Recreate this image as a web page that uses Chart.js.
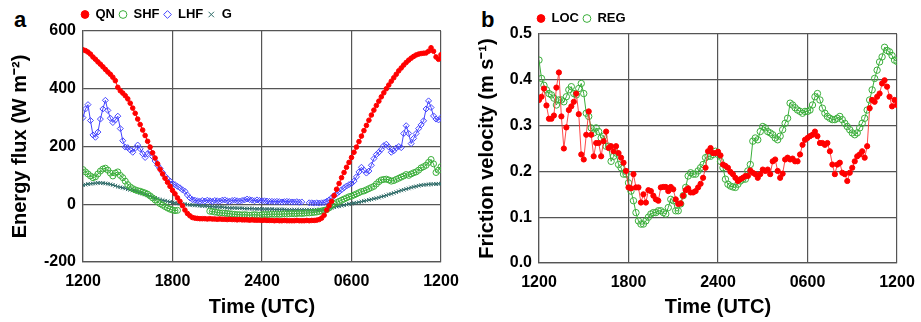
<!DOCTYPE html>
<html><head><meta charset="utf-8">
<script src="https://cdn.jsdelivr.net/npm/chart.js@4"></script>
<style>
html,body{margin:0;padding:0;background:#fff;width:921px;height:322px;overflow:hidden;position:relative;font-family:"Liberation Sans",Arial,sans-serif;}
#wa{position:absolute;left:0;top:0;width:460px;height:322px;}
#wb{position:absolute;left:467px;top:0;width:454px;height:322px;}
.pl{position:absolute;font-weight:bold;font-size:22px;color:#000;}
</style></head><body>
<div class="pl" style="left:14px;top:7px">a</div>
<div class="pl" style="left:481px;top:7px">b</div>
<div id="wa"><canvas id="ca" width="460" height="322"></canvas></div>
<div id="wb"><canvas id="cb" width="454" height="322"></canvas></div>
<script>
// ---- data (10-minute samples from 1200 UTC to 1200 UTC next day) ----
const xTickLabels = ['1200', '1800', '2400', '0600', '1200'];
const seriesNamesA = ['QN', 'SHF', 'LHF', 'G'];
const seriesNamesB = ['LOC', 'REG'];

const QN = [
 535,532,527,520,510,502, 493,485,476,467,458,450, 440,428,405,393,385,376,
 365,350,333,315,295,276, 257,238,218,198,178,160, 140,121,105,90,76,62,
 48,36,22,10,-5,-20, -32,-40,-46,-48,-49,-50, -50,-50,-51,-50,-51,-51,
 -52,-51,-52,-52,-53,-52, -53,-53,-54,-53,-54,-54, -54,-55,-54,-55,-55,-55,
 -56,-55,-56,-56,-56,-57, -56,-57,-57,-56,-57,-57, -57,-57,-56,-57,-57,-57,
 -56,-57,-56,-56,-55,-53, -48,-38,-20,-5,10,30, 52,72,92,110,128,145,
 162,180,198,217,236,255, 273,291,309,326,342,357, 372,386,400,413,426,438,
 450,462,472,482,491,499, 506,512,517,520,522,523, 524,530,542,530,510,502,
 518];
const SHF = [
 120,112,105,98,92,95, 105,115,122,125,118,108, 98,108,112,100,92,80,
 68,60,54,50,47,45, 42,39,35,29,22,15, 8,2,-3,-8,-13,-17,
 -20,-22,-21,null,null,null, null,null,null,null,null,null, null,null,null,-24,-25,-27,
 -28,-30,-30,-31,-32,-33, -34,-35,-36,-36,-37,-36, -37,-38,-37,-36,-37,-38,
 -36,-35,-36,-35,-34,-35, -34,-35,-34,-33,-34,-33, -32,-33,-32,-31,-32,-31,
 -30,-30,-29,-28,-27,-25, -23,-21,-19,-12,-5,2, 6,10,14,18,22,26,
 28,32,36,40,44,46, 50,54,58,62,70,78, 84,86,87,84,80,82,
 86,90,94,98,103,100, 105,109,112,118,126,130, 135,145,155,140,110,118,
 130];
const LHF = [
 300,330,345,290,240,232, 250,295,330,360,325,298, 283,292,305,262,220,198,
 196,188,180,194,205,192, 175,162,175,183,165,150, 135,124,110,97,88,80,
 72,68,62,57,50,45, 32,22,16,14,12,10, 13,11,14,12,10,13,
 12,11,14,15,12,10, 13,14,12,11,13,15, 18,16,14,12,15,13,
 12,12,11,10,10,9, 10,9,8,9,10,9, 8,8,9,7,8,null,
 null,5,5,4,5,4, 5,6,10,15,22,30, 36,43,50,57,63,68,
 72,80,95,112,128,118, 108,115,135,158,172,180, 190,203,208,198,180,185,
 195,200,196,245,272,245, 210,228,245,262,275,289, 330,358,335,306,295,292,
 300];
const G = [
 66,68,70,71,72,73, 74,74,73,72,71,69, 67,64,61,59,57,55,
 52,50,48,46,43,40, 37,34,31,28,25,22, 19,16,14,12,10,8,
 6,5,3,2,1,0, -1,-2,-3,-4,-4,-5, -6,-6,-7,-8,-8,-9,
 -9,-10,-10,-11,-12,-13, -13,-13,-14,-14,-14,-15, -15,-15,-15,-16,-16,-16,
 -16,-17,-17,-17,-17,-18, -18,-18,-18,-18,-19,-19, -19,-19,-19,-19,-19,-19,
 -19,-19,-19,-19,-19,-19, -19,-19,-19,-16,-13,-10, -8,-7,-5,-3,-1,1,
 2,4,5,7,9,11, 13,15,17,19,21,23, 26,28,31,34,36,39,
 42,45,48,50,53,55, 58,60,62,64,66,67, 68,69,69,70,70,71,
 71];

const LOC = [
 0.356,0.363,0.381,0.344,0.315,0.315,0.322,0.383,0.416,0.320,
 0.250,0.296,0.334,0.342,0.352,0.370,0.325,0.237,0.226,0.280,
 0.331,0.280,0.233,0.262,0.262,0.233,0.266,0.287,0.251,0.255,
 0.244,0.255,0.240,0.230,0.219,0.201,0.165,0.163,0.194,0.165,
 0.165,0.132,0.150,0.132,0.159,0.157,0.147,0.139,0.136,0.165,
 0.166,0.166,0.157,0.166,0.161,0.139,0.129,0.130,0.147,0.159,
 0.163,0.154,0.154,0.157,0.165,0.173,0.186,0.208,0.244,0.251,0.240,
 0.240,0.243,0.235,0.215,0.212,0.208,0.199,0.194,0.186,0.179,
 0.183,0.186,0.190,0.190,0.202,0.197,0.194,0.186,0.194,0.204,
 0.201,0.204,0.194,0.222,0.226,0.201,0.186,0.195,0.226,0.230,
 0.226,0.228,0.222,0.222,0.237,0.258,0.269,0.273,0.277,0.280,
 0.287,0.277,0.262,0.262,0.258,0.262,0.244,0.215,0.194,0.215,
 0.219,0.197,0.194,0.179,0.197,0.208,0.222,0.233,0.237,0.244,
 0.230,0.255,0.338,0.356,0.352,0.363,0.370,0.392,0.399,0.385,
 0.363,0.342,0.356,0.345];
const REG = [
 0.443,0.403,0.388,0.378,0.370,0.367,0.360,0.345,0.356,0.356,
 0.352,0.363,0.378,0.385,0.370,0.367,0.381,0.392,0.370,0.327,
 0.320,0.295,0.284,0.295,0.287,0.273,0.277,0.255,0.255,0.222,
 0.233,0.240,0.215,0.208,0.194,0.194,0.175,0.157,0.136,0.110,
 0.092,0.085,0.085,0.092,0.100,0.107,0.110,0.110,0.114,0.114,
 0.110,0.107,0.121,0.139,0.136,0.114,0.114,0.129,0.147,0.165,
 0.190,0.197,0.194,0.194,0.201,0.208,0.215,0.230,0.233,0.233,0.237,
 0.244,0.237,0.222,0.208,0.183,0.172,0.168,0.166,0.165,0.172,
 0.179,0.183,0.183,0.201,0.215,0.266,0.273,0.269,0.287,0.298,
 0.295,0.287,0.284,0.280,0.273,0.269,0.277,0.291,0.305,0.316,
 0.349,0.345,0.339,0.334,0.331,0.327,0.331,0.331,0.334,0.345,
 0.363,0.370,0.356,0.338,0.327,0.320,0.316,0.313,0.313,0.316,
 0.320,0.313,0.305,0.298,0.291,0.284,0.280,0.284,0.295,0.305,
 0.316,0.334,0.356,0.378,0.403,0.421,0.439,0.450,0.471,0.464,
 0.461,0.453,0.443,0.440];

// ---- helpers ----
const STEP_H = 1 / 6; // 10-minute sampling, in hours after 1200 UTC
const toXY = arr => arr.map((v, i) => ({ x: i * STEP_H, y: v }));
const FONT = '"Liberation Sans", Arial, sans-serif';

const legendShift = {
  id: 'legendShift',
  afterLayout(chart, args, opts) {
    if (chart.legend) { chart.legend.left += (opts.dx || 0); chart.legend.top += (opts.dy || 0); }
  }
};

function makeScales(yMin, yMax, yStep, yTitle, yWidth, xHeight, yFmt) {
  return {
    x: {
      type: 'linear', min: 0, max: 24,
      afterFit: s => { s.height = xHeight; s.paddingLeft = 0; s.paddingRight = 0; },
      ticks: { stepSize: 6, autoSkip: false, padding: 10, color: '#000',
        font: { family: FONT, size: 16, weight: 'bold' },
        callback: v => xTickLabels[Math.round(v / 6)] },
      grid: { color: '#555', lineWidth: 1.2, drawTicks: false },
      border: { color: '#555', width: 1.2 },
      title: { display: true, text: 'Time (UTC)', color: '#000',
        font: { family: FONT, size: 20, weight: 'bold' }, padding: { top: 0, bottom: 3 } }
    },
    y: {
      min: yMin, max: yMax,
      afterFit: s => { s.width = yWidth; s.paddingTop = 0; s.paddingBottom = 0; },
      ticks: { stepSize: yStep, padding: 7, color: '#000',
        font: { family: FONT, size: 16, weight: 'bold' }, callback: yFmt },
      grid: { color: '#555', lineWidth: 1.2, drawTicks: false },
      border: { color: '#555', width: 1.2 },
      title: { display: true, text: yTitle, color: '#000',
        font: { family: FONT, size: 20, weight: 'bold' }, padding: { top: 8, bottom: 0 } }
    }
  };
}

function legendOpts() {
  return {
    display: true, position: 'top', align: 'start', fullSize: false,
    labels: { usePointStyle: true, boxWidth: 8, boxHeight: 5.5, padding: 4, color: '#000',
      font: { family: FONT, size: 13, weight: 'bold' } }
  };
}

const red = '#ff0000', green = '#3aae3a', blue = '#4444ff', teal = '#2e6b68';

new Chart(document.getElementById('ca'), {
  type: 'line',
  data: { datasets: [
    { label: seriesNamesA[0], data: toXY(QN), borderColor: red, backgroundColor: red, borderWidth: 1,
      pointStyle: 'circle', pointRadius: 2.3, pointBackgroundColor: red, pointBorderColor: red, pointBorderWidth: 1 },
    { label: seriesNamesA[1], data: toXY(SHF), borderColor: green, backgroundColor: green, borderWidth: 1,
      pointStyle: 'circle', pointRadius: 3, pointBackgroundColor: 'rgba(255,255,255,0)', pointBorderColor: green, pointBorderWidth: 1 },
    { label: seriesNamesA[2], data: toXY(LHF), borderColor: blue, backgroundColor: blue, borderWidth: 1,
      pointStyle: 'rectRot', pointRadius: 3, pointBackgroundColor: 'rgba(255,255,255,0)', pointBorderColor: blue, pointBorderWidth: 1 },
    { label: seriesNamesA[3], data: toXY(G), borderColor: teal, backgroundColor: teal, borderWidth: 1,
      pointStyle: 'crossRot', pointRadius: 2.6, pointBackgroundColor: teal, pointBorderColor: teal, pointBorderWidth: 1 }
  ]},
  options: {
    responsive: false, animation: false, spanGaps: false,
    layout: { padding: { left: 0, right: 19, top: 4, bottom: 0 } },
    scales: makeScales(-200, 600, 200, 'Energy flux (W m\u207B\u00B2)', 83, 60, v => String(v)),
    plugins: { legend: legendOpts(), tooltip: { enabled: false }, legendShift: { dx: -6, dy: 0 } }
  },
  plugins: [legendShift]
});

new Chart(document.getElementById('cb'), {
  type: 'line',
  data: { datasets: [
    { label: seriesNamesB[0], data: toXY(LOC), borderColor: 'rgba(255,40,40,0.85)', backgroundColor: red, borderWidth: 1,
      pointStyle: 'circle', pointRadius: 2.6, pointBackgroundColor: red, pointBorderColor: red, pointBorderWidth: 1 },
    { label: seriesNamesB[1], data: toXY(REG), borderColor: green, backgroundColor: green, borderWidth: 1,
      pointStyle: 'circle', pointRadius: 3.2, pointBackgroundColor: 'rgba(255,255,255,0)', pointBorderColor: green, pointBorderWidth: 1 }
  ]},
  options: {
    responsive: false, animation: false,
    layout: { padding: { left: 0, right: 24, top: 7, bottom: 0 } },
    scales: makeScales(0, 0.5, 0.1, 'Friction velocity (m s\u207B\u00B9)', 72, 59, v => Number(v).toFixed(1)),
    plugins: { legend: legendOpts(), tooltip: { enabled: false }, legendShift: { dx: -6, dy: 1 } }
  },
  plugins: [legendShift]
});
</script>
</body></html>
